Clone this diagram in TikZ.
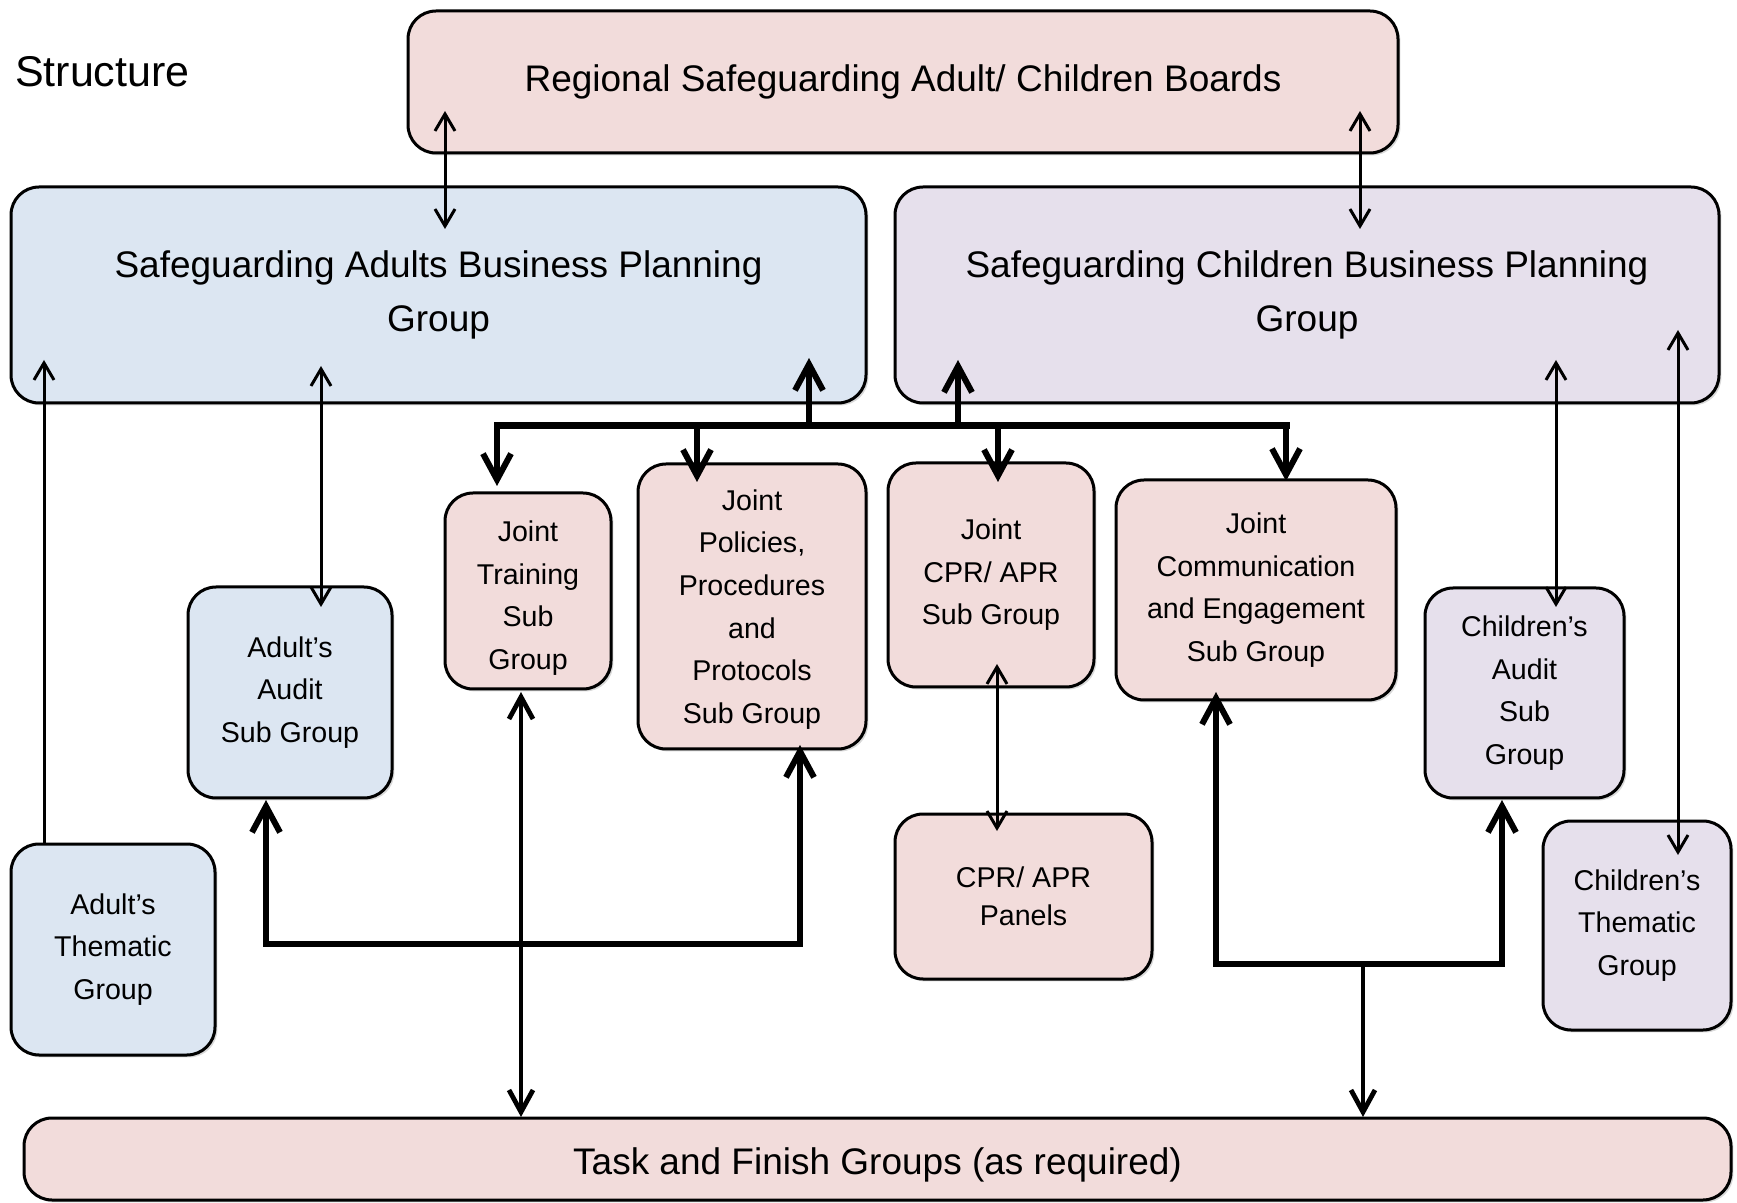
\documentclass[tikz,border=0pt]{standalone}
\usepackage{fontspec}
\setmainfont{Liberation Sans}
\usetikzlibrary{arrows.meta,shadows}
\definecolor{pinkf}{HTML}{F2DCDB}
\definecolor{bluef}{HTML}{DCE6F2}
\definecolor{purplef}{HTML}{E6E0EC}
\begin{document}
\begin{tikzpicture}[x=0.5pt,y=-0.5pt,
  box/.style={draw=black, line width=1.5pt, rounded corners=14pt, inner sep=0pt, align=center,
    drop shadow={shadow xshift=1.2pt, shadow yshift=-1.2pt, opacity=0.3}},
  corners/.style n args={4}{minimum width={(#3-#1)*0.5pt}, minimum height={(#4-#2)*0.5pt}},
  pbox/.style={box, fill=pinkf},
  bbox/.style={box, fill=bluef},
  vbox/.style={box, fill=purplef},
  big/.style={font=\fontsize{18.5}{26.6}\selectfont},
  small/.style={font=\fontsize{14.3}{21.3}\selectfont},
  lowtext/.style n args={2}{label={[align=center, inner sep=0pt, yshift=-#1, #2]center:}},
  thinar/.style={line width=1.5pt, >={Straight Barb[length=8.5pt,width=10pt]}},
  medar/.style={line width=2.4pt, >={Straight Barb[length=11pt,width=12pt]}},
  thickar/.style={line width=3pt, >={Straight Barb[length=13pt,width=14pt]}},
  busline/.style={line width=3.5pt, line cap=rect}
]
\useasboundingbox (0,0) rectangle (1737,1203);

\node[font=\fontsize{21.5}{26}\selectfont, anchor=west] (title) at (8,72) {Structure};

% boxes (centre, then size from corner coordinates)
\node[pbox, big, corners={408}{11}{1398}{153}] (reg) at (903,82) {Regional Safeguarding Adult/ Children Boards};
\node[bbox, big, corners={11}{186}{866}{402}] (abpg) at (438.5,295) {Safeguarding Adults Business Planning\\Group};
\node[vbox, big, corners={895}{186}{1719}{402}] (cbpg) at (1307,295) {Safeguarding Children Business Planning\\Group};
\node[bbox, small, corners={11}{844}{215}{1055}] (athem) at (113,949.5) {Adult’s\\Thematic\\Group};
\node[bbox, small, corners={188}{587}{392}{798}] (aaud) at (290,692.5) {Adult’s\\Audit\\Sub Group};
\node[pbox, small, corners={445}{493}{611}{689}] (jtrain) at (528,591) {};
\node[small, align=center] (jtraintext) at ([yshift=-3.5pt]jtrain.center) {Joint\\Training\\Sub\\Group};
\node[pbox, small, corners={638}{464}{866}{749}] (jpol) at (752,606.5) {};
\node[small, align=center] (jpoltext) at ([yshift=-1.5pt]jpol.center) {Joint\\Policies,\\Procedures\\and\\Protocols\\Sub Group};
\node[pbox, small, corners={888}{463}{1094}{687}] (jcpr) at (991,575) {Joint\\CPR/ APR\\Sub Group};
\node[pbox, small, corners={1116}{480}{1396}{700}] (jcomm) at (1256,590) {Joint\\Communication\\and Engagement\\Sub Group};
\node[vbox, small, corners={1425}{588}{1624}{798}] (caud) at (1524.5,693) {Children’s\\Audit\\Sub\\Group};
\node[vbox, small, corners={1543}{821}{1731}{1030}] (cthem) at (1637,925.5) {Children’s\\Thematic\\Group};
\node[pbox, font=\fontsize{14.3}{18.8}\selectfont, corners={895}{814}{1152}{979}] (panels) at (1023.5,896.5) {CPR/ APR\\Panels};
\node[pbox, big, corners={24}{1118}{1731}{1200}] (task) at (877.5,1159) {};
\node[big] (tasktext) at ([yshift=-3pt]task.center) {Task and Finish Groups (as required)};

% coordinates for arrow ends
\coordinate (r1) at (445,111);  \coordinate (r2) at (445,229);
\coordinate (r3) at (1360,111); \coordinate (r4) at (1360,229);
\coordinate (a1) at (44,360);
\coordinate (a2) at (321,366);  \coordinate (a3) at (321,607);
\coordinate (busL) at (497,426); \coordinate (busR) at (1286,426);
\coordinate (u1) at (809,358);  \coordinate (u2) at (958,360);
\coordinate (d1) at (497,486);  \coordinate (d2) at (697,482);
\coordinate (d3) at (998,482);  \coordinate (d4) at (1286,481);
\coordinate (c1) at (997,664);  \coordinate (c2) at (997,831);
\coordinate (t1) at (521,692);  \coordinate (t2) at (521,1117);
\coordinate (l1) at (266,800);  \coordinate (l2) at (266,944);
\coordinate (l3) at (800,944);  \coordinate (l4) at (800,745);
\coordinate (q1) at (1216,692); \coordinate (q2) at (1216,964);
\coordinate (q3) at (1502,964); \coordinate (q4) at (1502,800);
\coordinate (q5) at (1363,964); \coordinate (q6) at (1363,1117);
\coordinate (k1) at (1556,360); \coordinate (k2) at (1556,607);
\coordinate (k3) at (1678,330); \coordinate (k4) at (1678,855);

% thin connectors
\draw[thinar,<->] (r1) -- (r2);
\draw[thinar,<->] (r3) -- (r4);
\draw[thinar,->] (athem.north -| a1) -- (a1);
\draw[thinar,<->] (a2) -- (a3);
\draw[thinar,<->] (c1) -- (c2);
\draw[thinar,<->] (k1) -- (k2);
\draw[thinar,<->] (k3) -- (k4);

% bus
\draw[busline] (busL) -- (busR);
\draw[thickar,->] (busL -| u1) -- (u1);
\draw[thickar,->] (busL -| u2) -- (u2);
\draw[thickar,->] (busL) -- (d1);
\draw[thickar,->] (busL -| d2) -- (d2);
\draw[thickar,->] (busL -| d3) -- (d3);
\draw[thickar,->] (busR) -- (d4);

% lower connectors
\draw[medar,<->] (t1) -- (t2);
\draw[thickar,<->] (l1) -- (l2) -- (l3) -- (l4);
\draw[thickar,<->] (q1) -- (q2) -- (q3) -- (q4);
\draw[medar,->] (q5) -- (q6);
\end{tikzpicture}
\end{document}
